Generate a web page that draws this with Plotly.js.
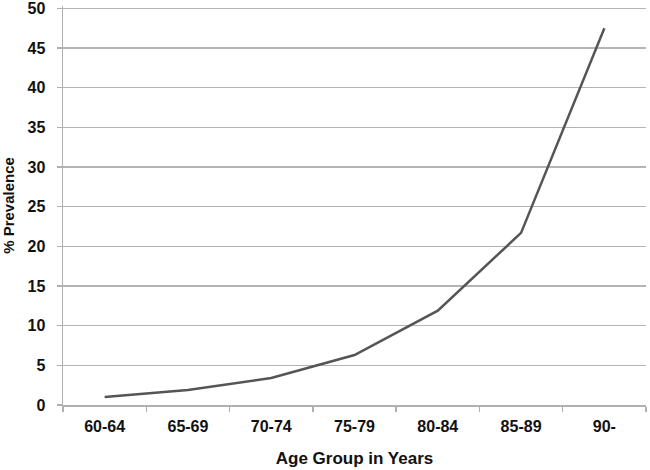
<!DOCTYPE html>
<html>
<head>
<meta charset="utf-8">
<script src="https://cdn.plot.ly/plotly-3.0.1.min.js"></script>
<style>html,body{margin:0;padding:0;background:#fff;}#chart{width:650px;height:470px;}</style>
</head>
<body>
<div id="chart"></div>
<script>
const ageGroups = ["60-64", "65-69", "70-74", "75-79", "80-84", "85-89", "90-"];
const prevalence = [1.0, 1.9, 3.4, 6.3, 11.9, 21.7, 47.5];
const yTicks = [0, 5, 10, 15, 20, 25, 30, 35, 40, 45, 50];

const font = "Liberation Sans, Arial, sans-serif";
const trace = {
  type: "scatter",
  mode: "lines",
  x: ageGroups,
  y: prevalence,
  line: {color: "#555555", width: 2.5},
  hoverinfo: "x+y"
};
const layout = {
  width: 650, height: 470,
  margin: {l: 63, r: 4, t: 6, b: 65},
  paper_bgcolor: "#ffffff", plot_bgcolor: "#ffffff",
  showlegend: false,
  font: {family: font, color: "#111111"},
  xaxis: {
    type: "category",
    range: [-0.5, 6.5],
    tickson: "boundaries",
    ticks: "outside", ticklen: 5, tickcolor: "#b0b0b0", tickwidth: 1.5,
    showline: true, linecolor: "#b0b0b0", linewidth: 1.5,
    showgrid: false, zeroline: false,
    ticklabelstandoff: 6,
    tickfont: {family: font, size: 16, color: "#111111", weight: "bold"},
    title: {text: "<b>Age Group in Years</b>", font: {family: font, size: 17, color: "#111111"}, standoff: 18}
  },
  yaxis: {
    range: [0, 50.3],
    tickvals: yTicks,
    ticks: "outside", ticklen: 5, tickcolor: "#b0b0b0", tickwidth: 1.5,
    showline: true, linecolor: "#b0b0b0", linewidth: 1.5,
    showgrid: true, gridcolor: "#b4b4b4", gridwidth: 1.5,
    zeroline: false,
    ticklabelstandoff: 8,
    ticklabeloverflow: "allow",
    tickfont: {family: font, size: 16, color: "#111111", weight: "bold"},
    title: {text: "<b>% Prevalence</b>", font: {family: font, size: 15, color: "#111111"}, standoff: 14}
  }
};
Plotly.newPlot("chart", [trace], layout, {displayModeBar: false, staticPlot: true});
</script>
</body>
</html>
